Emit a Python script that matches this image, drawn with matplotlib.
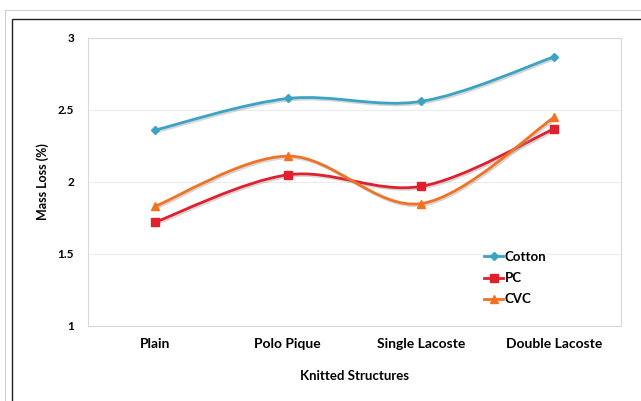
import numpy as np
import matplotlib
matplotlib.use('Agg')
import matplotlib.pyplot as plt
import matplotlib.patches as mpatches
import matplotlib.patheffects as pe
from matplotlib.path import Path

plt.rcParams['font.family'] = ['Lato', 'DejaVu Sans']
plt.rcParams['font.weight'] = 'bold'

structures = ['Plain', 'Polo Pique', 'Single Lacoste', 'Double Lacoste']
cotton = [2.36, 2.58, 2.56, 2.87]
pc     = [1.72, 2.05, 1.97, 2.37]
cvc    = [1.83, 2.18, 1.85, 2.45]

series = [
    ('Cotton', cotton, '#3ba3c4', 'D', 4),
    ('PC',     pc,     '#e0202e', 's', 5.5),
    ('CVC',    cvc,    '#f07222', '^', 6),
]


def smooth_path(xs, ys, t=1/6):
    # Excel-style smoothed line: cubic Bezier segments, Catmull-Rom control points
    pts = np.column_stack([xs, ys]).astype(float)
    n = len(pts)
    verts = [pts[0]]
    codes = [Path.MOVETO]
    for i in range(n - 1):
        p0 = pts[i - 1] if i > 0 else pts[i]
        p1, p2 = pts[i], pts[i + 1]
        p3 = pts[i + 2] if i + 2 < n else pts[i + 1]
        c1 = p1 + (p2 - p0) * t
        c2 = p2 - (p3 - p1) * t
        verts += [c1, c2, p2]
        codes += [Path.CURVE4] * 3
    return Path(verts, codes)


fig = plt.figure(figsize=(6.41, 4.01), dpi=100)
# outer frames
fig.patches.append(mpatches.Rectangle((5/641, -0.1), 1.2, 1 - 10/401 + 0.1,
                   transform=fig.transFigure, fill=False, edgecolor='#d0d0d0', lw=0.8))
fig.patches.append(mpatches.Rectangle((12/641, -0.1), 1.2, 1 - 19/401 + 0.1,
                   transform=fig.transFigure, fill=False, edgecolor='#222222', lw=1.0))

ax = fig.add_axes([88/641, 1 - 326/401, 533/641, 288/401])
x = np.arange(len(structures)) + 0.5

for name, vals, color, mk, ms in series:
    path = smooth_path(x, vals)
    patch = mpatches.PathPatch(path, fill=False, edgecolor=color, lw=2.0,
                               path_effects=[pe.SimpleLineShadow(offset=(1, -1.2), shadow_color='#999999', alpha=0.4),
                                             pe.Normal()])
    ax.add_patch(patch)
    ax.plot(x, vals, linestyle='none', color=color, marker=mk, markersize=ms)

ax.set_xlim(0, 4)
ax.set_ylim(1, 3)
ax.set_yticks([1, 1.5, 2, 2.5, 3])
ax.set_yticklabels(['1', '1.5', '2', '2.5', '3'])
ax.set_xticks(x)
ax.set_xticklabels(structures, fontsize=10, fontweight='bold')
ax.tick_params(axis='y', labelsize=8.5, length=0, pad=10)
ax.tick_params(axis='x', length=0, pad=9)
ax.yaxis.grid(True, color='#ececec', lw=0.8)
ax.set_axisbelow(True)
for s in ax.spines.values():
    s.set_color('#d9d9d9')
    s.set_linewidth(0.8)

ax.set_ylabel('Mass Loss (%)', fontsize=9, fontweight='bold', labelpad=6)
ax.set_xlabel('Knitted Structures', fontsize=9.5, fontweight='bold', labelpad=14)

handles = [plt.Line2D([], [], color=c, marker=mk, markersize=ms, lw=2.0)
           for _, _, c, mk, ms in series]
ax.legend(handles, [s[0] for s in series], loc='lower left',
          bbox_to_anchor=(0.72, 0.03), frameon=False,
          handlelength=1.5, handletextpad=0.1, labelspacing=0.7,
          prop={'weight': 'bold', 'size': 9.5})

fig.savefig('out.png', dpi=100)
